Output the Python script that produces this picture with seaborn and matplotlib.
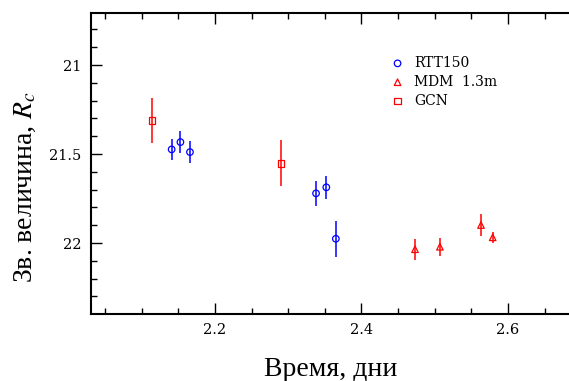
import matplotlib
matplotlib.use("Agg")
import matplotlib.pyplot as plt
import seaborn as sns
import numpy as np
from matplotlib.ticker import MultipleLocator

sns.set_style("ticks")
plt.rcParams['font.family'] = ['DejaVu Serif']
plt.rcParams['mathtext.fontset'] = 'stix'
plt.rcParams['text.color'] = 'black'
plt.rcParams['xtick.color'] = 'black'
plt.rcParams['ytick.color'] = 'black'
plt.rcParams['axes.labelcolor'] = 'black'

# Data
rtt_t = [2.141, 2.153, 2.166, 2.338, 2.352, 2.365]
rtt_m = [21.474, 21.433, 21.489, 21.721, 21.687, 21.976]
rtt_e = [0.06, 0.06, 0.06, 0.07, 0.065, 0.10]

mdm_t = [2.473, 2.507, 2.563, 2.579]
mdm_m = [22.035, 22.021, 21.899, 21.968]
mdm_e = [0.058, 0.05, 0.06, 0.03]

gcn_t = [2.114, 2.290]
gcn_m = [21.313, 21.552]
gcn_e = [0.127, 0.13]

series = [
    ("RTT150", rtt_t, rtt_m, rtt_e, "blue", "o"),
    ("MDM  1.3m", mdm_t, mdm_m, mdm_e, "red", "^"),
    ("GCN", gcn_t, gcn_m, gcn_e, "red", "s"),
]

W, H = 569, 381
fig = plt.figure(figsize=(W / 100, H / 100), dpi=100)
left, right, top, bottom = 91, 581.4, 12.7, 313.5
ax = fig.add_axes([left / W, 1 - bottom / H, (right - left) / W, (bottom - top) / H])

for label, t, m, e, c, mk in series:
    ax.errorbar(t, m, yerr=e, fmt='none', ecolor=c, elinewidth=1.1, capsize=0, zorder=2)
    sns.scatterplot(x=t, y=m, ax=ax, marker=mk, s=22, facecolor='none',
                    edgecolor=c, linewidth=0.9, label=label, zorder=3)

ax.set_xlim(2.031, 2.70)
ax.set_ylim(22.396, 20.706)
ax.xaxis.set_minor_locator(MultipleLocator(0.05))
ax.yaxis.set_minor_locator(MultipleLocator(0.1))
ax.set_xticks([2.2, 2.4, 2.6])
ax.set_xticklabels(["2.2", "2.4", "2.6"])
ax.set_yticks([21, 21.5, 22])
ax.set_yticklabels(["21", "21.5", "22"])
ax.tick_params(which='both', direction='in', top=True, right=True, width=1.0, color='black')
ax.tick_params(which='major', length=8, labelsize=10.5, pad=7)
ax.tick_params(which='minor', length=4.5)
for sp in ax.spines.values():
    sp.set_linewidth(1.5)
    sp.set_color('black')
    sp.set_visible(True)

fig.text(331 / W, 1 - 376.5 / H, "Время, дни", ha='center', va='baseline',
         fontsize=20, family='Liberation Serif', color='black')
fig.text(25 / W, 1 - 187 / H, "Зв. величина, $R_c$", ha='center', va='center',
         rotation=90, fontsize=20, family='Liberation Serif', color='black')

leg = ax.legend(loc='upper left', bbox_to_anchor=((392 - left) / (right - left), 1 - (56 - top) / (bottom - top)),
                frameon=False, fontsize=10, handlelength=0.8, handletextpad=0.8,
                labelspacing=0.35, borderaxespad=0, borderpad=0)
for txt in leg.get_texts():
    txt.set_family('DejaVu Serif')
    txt.set_color('black')

fig.savefig("out.png", dpi=100)
